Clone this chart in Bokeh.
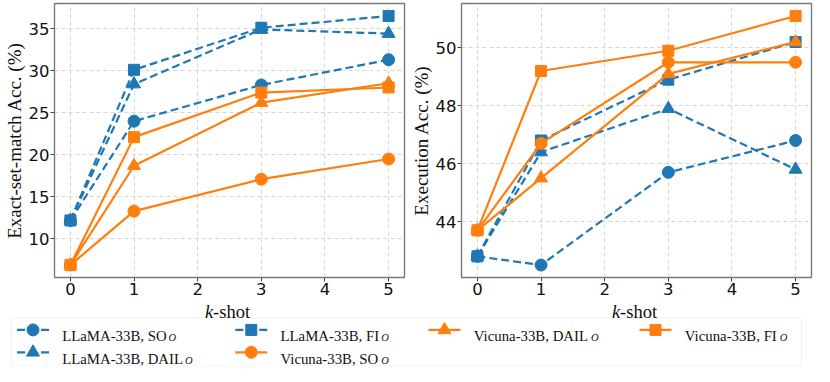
from bokeh.plotting import figure
from bokeh.layouts import column, row
from bokeh.models import Range1d, FixedTicker, BoxAnnotation
from bokeh.core.properties import value
from bokeh.embed import file_html
from bokeh.resources import INLINE

# ---------------- data ----------------
shots = [0, 1, 3, 5]
em_llama_so = [12.2, 24.0, 28.3, 31.3]
em_llama_dail = [12.2, 28.4, 34.9, 34.4]
em_llama_fi = [12.2, 30.1, 35.1, 36.5]
em_vicuna_so = [6.9, 13.3, 17.1, 19.5]
em_vicuna_dail = [6.9, 18.7, 26.2, 28.5]
em_vicuna_fi = [6.9, 22.1, 27.4, 28.0]
ex_llama_so = [42.8, 42.5, 45.7, 46.8]
ex_llama_dail = [42.8, 46.4, 47.9, 45.8]
ex_llama_fi = [42.8, 46.8, 48.9, 50.2]
ex_vicuna_so = [43.7, 46.7, 49.5, 49.5]
ex_vicuna_dail = [43.7, 45.5, 49.1, 50.2]
ex_vicuna_fi = [43.7, 49.2, 49.9, 51.1]
model_names = ["LLaMA-33B", "Vicuna-33B"]
method_names = ["SO", "DAIL", "FI"]
subscript = "O"
em_ticks = [10, 15, 20, 25, 30, 35]
ex_ticks = [44, 46, 48, 50]
x_ticks = [0, 1, 2, 3, 4, 5]
em_label = "Exact-set-match Acc. (%)"
ex_label = "Execution Acc. (%)"

# ---------------- style ----------------
BLUE = "#1f77b4"
ORANGE = "#ff7f0e"
colors = {"LLaMA-33B": BLUE, "Vicuna-33B": ORANGE}
dashes = {"LLaMA-33B": "8 4", "Vicuna-33B": "solid"}
markers = {"SO": ("circle", 12), "DAIL": ("triangle", 13), "FI": ("square", 11)}
SERIF = value("Liberation Serif")

em_series = {
    ("LLaMA-33B", "SO"): em_llama_so, ("LLaMA-33B", "DAIL"): em_llama_dail,
    ("LLaMA-33B", "FI"): em_llama_fi, ("Vicuna-33B", "SO"): em_vicuna_so,
    ("Vicuna-33B", "DAIL"): em_vicuna_dail, ("Vicuna-33B", "FI"): em_vicuna_fi,
}
ex_series = {
    ("LLaMA-33B", "SO"): ex_llama_so, ("LLaMA-33B", "DAIL"): ex_llama_dail,
    ("LLaMA-33B", "FI"): ex_llama_fi, ("Vicuna-33B", "SO"): ex_vicuna_so,
    ("Vicuna-33B", "DAIL"): ex_vicuna_dail, ("Vicuna-33B", "FI"): ex_vicuna_fi,
}

PLOT_H = 297
LEFT_W = 407
RIGHT_W = 407
BORDER_L = 50
BORDER_R = 3
LEG_H = 69


def pad_range(vals, frac=0.05):
    lo, hi = min(vals), max(vals)
    d = (hi - lo) * frac
    return lo - d, hi + d


def make_panel(width, ylabel, series, yticks):
    allv = [v for s in series.values() for v in s]
    y0, y1 = pad_range(allv)
    x0, x1 = pad_range(shots)
    p = figure(width=width, height=PLOT_H, x_range=Range1d(x0, x1),
               y_range=Range1d(y0, y1), output_backend="svg",
               toolbar_location=None, min_border_left=BORDER_L,
               min_border_right=BORDER_R, min_border_top=3,
               min_border_bottom=20, background_fill_color="white",
               border_fill_color="white")
    p.outline_line_color = "#7a7a7a"
    p.outline_line_width = 1.4
    p.xaxis.ticker = FixedTicker(ticks=x_ticks)
    p.yaxis.ticker = FixedTicker(ticks=yticks)
    for ax in (p.xaxis[0], p.yaxis[0]):
        ax.axis_line_color = None
        ax.major_tick_in = 0
        ax.major_tick_out = 4
        ax.major_tick_line_color = "#444444"
        ax.minor_tick_line_color = None
        ax.major_label_text_font = "DejaVu Sans"
        ax.major_label_text_font_size = "16.5px"
        ax.major_label_text_color = "#111111"
        ax.major_label_standoff = 1
    p.yaxis.axis_label = ylabel
    p.yaxis.axis_label_text_font = "Liberation Serif"
    p.yaxis.axis_label_text_font_size = "19px"
    p.yaxis.axis_label_text_font_style = "normal"
    p.yaxis.axis_label_text_color = "#111111"
    p.yaxis.axis_label_standoff = 1
    for g in (p.xgrid[0], p.ygrid[0]):
        g.grid_line_color = "#d6d6d6"
        g.grid_line_dash = "4 3"
        g.grid_line_width = 1
    for model in model_names:
        for method in method_names:
            ys = series[(model, method)]
            mk, sz = markers[method]
            p.line(shots, ys, line_color=colors[model], line_width=2.2,
                   line_dash=dashes[model])
            p.scatter(shots, ys, marker=mk, size=sz, fill_color=colors[model],
                      line_color=colors[model], line_width=1)
    return p


p1 = make_panel(LEFT_W, em_label, em_series, em_ticks)
p2 = make_panel(RIGHT_W, ex_label, ex_series, ex_ticks)

# ---------------- legend / x-labels strip ----------------
TOTAL_W = LEFT_W + RIGHT_W
lg = figure(width=TOTAL_W, height=LEG_H, x_range=Range1d(0, TOTAL_W),
            y_range=Range1d(0, LEG_H), output_backend="svg",
            toolbar_location=None, min_border=0, outline_line_color=None,
            background_fill_color="white", border_fill_color="white")
lg.xaxis.visible = False
lg.yaxis.visible = False
lg.grid.visible = False

TIMES_W = {"L": .611, "a": .444, "M": .889, "A": .722, "-": .333, "3": .5,
           "B": .667, ",": .25, " ": .25, "S": .556, "O": .722, "F": .556,
           "I": .333, "D": .722, "V": .722, "i": .278, "c": .444, "u": .5,
           "n": .5, "k": .444, "s": .389, "h": .5, "o": .5, "t": .278}


def text_w(s, size):
    return sum(TIMES_W.get(ch, .5) for ch in s) * size


# k-shot labels centred under each plot frame
KS = 18.5
centers = [(BORDER_L + LEFT_W - BORDER_R) / 2,
           LEFT_W + (BORDER_L + RIGHT_W - BORDER_R) / 2]
for c in centers:
    xs = c - text_w("k-shot", KS) / 2
    lg.text([xs], [55], text=["k"], text_font=SERIF,
            text_font_size=f"{KS}px", text_font_style="italic",
            text_baseline="alphabetic", text_align="left", text_color="#111111")
    lg.text([xs + text_w("k", KS)], [55], text=["-shot"],
            text_font=SERIF, text_font_size=f"{KS}px",
            text_baseline="alphabetic", text_align="left", text_color="#111111")

box = BoxAnnotation(left=11, right=801, bottom=0.5, top=48.5,
                    fill_color="white", fill_alpha=1.0, line_color="#cccccc",
                    line_width=1, border_radius=3, level="underlay")
lg.add_layout(box)

entries = [(m, k) for m in model_names for k in method_names]
# matplotlib-style column filling for 6 entries in 4 columns: 2, 2, 1, 1
slots = [(0, 0), (0, 1), (1, 0), (1, 1), (2, 0), (3, 0)]
col_handle = [32.5, 250.8, 444.0, 655.0]
col_text = [61.7, 280.0, 473.3, 684.3]
row_mid = [36.6, 14.2]
row_base = [30.2, 7.8]
FS = 14.8
for (model, method), (c, r) in zip(entries, slots):
    hx = col_handle[c]
    hy = row_mid[r]
    mk, sz = markers[method]
    lg.line([hx - 16, hx + 16], [hy, hy], line_color=colors[model],
            line_width=2.2, line_dash=dashes[model])
    lg.scatter([hx], [hy], marker=mk, size=sz, fill_color=colors[model],
               line_color=colors[model])
    main = f"{model}, {method}"
    lg.text([col_text[c]], [row_base[r]], text=[main], text_font=SERIF,
            text_font_size=f"{FS}px", text_baseline="alphabetic",
            text_align="left", text_color="#111111")
    lg.text([col_text[c] + text_w(main, FS) + 2.0], [row_base[r] - 1.5],
            text=[subscript], text_font=SERIF, text_font_size="10.5px",
            text_font_style="italic", text_baseline="alphabetic",
            text_align="left", text_color="#111111")

layout = column(row(p1, p2), lg)
open("out.html", "w").write(file_html(layout, INLINE))
